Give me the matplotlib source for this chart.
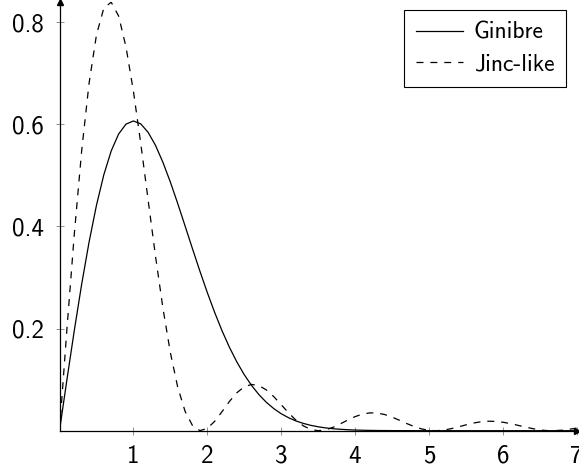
import matplotlib
matplotlib.use('Agg')
import matplotlib.pyplot as plt

# values
rGinibre = [0.0, 0.1, 0.2, 0.3, 0.4, 0.5, 0.6, 0.7, 0.8, 0.9,
            1.0, 1.1, 1.2, 1.3, 1.4, 1.5, 1.6, 1.7, 1.8, 1.9,
            2.0, 2.1, 2.2, 2.3, 2.4, 2.5, 2.6, 2.7, 2.8, 2.9,
            3.0, 3.1, 3.2, 3.3, 3.4, 3.5, 3.6, 3.7, 3.8, 3.9,
            4.0, 4.1, 4.2, 4.3, 4.4, 4.5, 5.0, 6.0, 7.0]
ginibre = [0.0, 0.0995, 0.1960, 0.2868, 0.3692, 0.4412, 0.5012, 0.5479, 0.5809, 0.6003,
           0.6065, 0.6007, 0.5841, 0.5585, 0.5254, 0.4870, 0.4449, 0.4007, 0.3562, 0.3125,
           0.2707, 0.2316, 0.1956, 0.1633, 0.1347, 0.1098, 0.0885, 0.0705, 0.0555, 0.0433,
           0.0333, 0.0254, 0.0191, 0.0143, 0.0105, 0.0077, 0.0055, 0.0039, 0.0028, 0.0019,
           0.0013, 0.0009, 0.0006, 0.0004, 0.0003, 0.0002, 0.0, 0.0, 0.0]

rJinc = [0.0, 0.1, 0.2, 0.3, 0.4, 0.5, 0.6, 0.7, 0.8, 0.9,
         1.0, 1.1, 1.2, 1.3, 1.4, 1.5, 1.6, 1.7, 1.8, 1.9,
         2.0, 2.1, 2.2, 2.3, 2.4, 2.5, 2.6, 2.7, 2.8, 2.9,
         3.0, 3.1, 3.2, 3.3, 3.4, 3.5, 3.6, 3.7, 3.8, 3.9,
         4.0, 4.1, 4.2, 4.3, 4.4, 4.5, 4.6, 4.7, 4.8, 4.9,
         5.0, 5.1, 5.2, 5.3, 5.4, 5.5, 5.6, 5.7, 5.8, 5.9,
         6.0, 6.1, 6.2, 6.3, 6.4, 6.5, 6.6, 6.7, 6.8, 6.9, 7.0]
jinc = [0.0, 0.1980, 0.3842, 0.5480, 0.6801, 0.7748, 0.8277, 0.8390, 0.8120, 0.7514,
        0.6652, 0.5621, 0.4510, 0.3410, 0.2398, 0.1533, 0.0853, 0.0378, 0.0101, 0.0002,
        0.0044, 0.0183, 0.0374, 0.0573, 0.0743, 0.0859, 0.0906, 0.0883, 0.0798, 0.0667,
        0.0510, 0.0350, 0.0206, 0.0095, 0.0025, 0.0000, 0.0016, 0.0065, 0.0133, 0.0208,
        0.0275, 0.0325, 0.0349, 0.0346, 0.0317, 0.0267, 0.0205, 0.0140, 0.0081, 0.0035,
        0.0008, 0.0000, 0.0012, 0.0039, 0.0075, 0.0114, 0.0149, 0.0174, 0.0186, 0.0182,
        0.0166, 0.0140, 0.0107, 0.0073, 0.0042, 0.0015, 0.0002, 0.0001, 0.0010, 0.0028, 0.0051]

xTicks = [1, 2, 3, 4, 5, 6, 7]
yTicks = [0.2, 0.4, 0.6, 0.8]

plt.rcParams['font.family'] = ['cmss10', 'DejaVu Sans']
plt.rcParams['axes.unicode_minus'] = False
plt.rcParams['lines.scale_dashes'] = False

fig = plt.figure(figsize=(5.79, 4.72), dpi=100)
ax = fig.add_axes([59.5 / 579, 41.3 / 472, 517.2 / 579, 429.0 / 472])

ax.plot(rGinibre, ginibre, color='black', linewidth=0.9, label='Ginibre')
ax.plot(rJinc, jinc, color='black', linewidth=0.9, linestyle=(0, (5.0, 5.0)), label='Jinc-like')

ax.set_xlim(0, 7)
ax.set_ylim(0, 0.84)
ax.set_xticks(xTicks)
ax.set_xticklabels([str(t) for t in xTicks])
ax.set_yticks(yTicks)
ax.set_yticklabels([str(t) for t in yTicks])

for side in ['top', 'right']:
    ax.spines[side].set_visible(False)
for side in ['left', 'bottom']:
    ax.spines[side].set_linewidth(0.9)
    ax.spines[side].set_color('black')

ax.tick_params(direction='inout', length=6, width=0.6, color='0.5', labelsize=18)
ax.tick_params(axis='x', pad=7)
ax.tick_params(axis='y', pad=8)

# axis arrows
ax.plot(1, 0, marker='>', color='black', markersize=5, transform=ax.get_yaxis_transform(), clip_on=False)
ax.plot(0, 1, marker='^', color='black', markersize=5, transform=ax.get_xaxis_transform(), clip_on=False)

leg = ax.legend(loc='upper right', bbox_to_anchor=(566 / 579, 1 - 10 / 472), bbox_transform=fig.transFigure,
                borderaxespad=0, fontsize=17, handlelength=2.0, handletextpad=0.45, labelspacing=0.4,
                borderpad=0.5, fancybox=False, framealpha=1, edgecolor='black')
leg.get_frame().set_linewidth(0.8)

fig.savefig('out.png', dpi=100)
